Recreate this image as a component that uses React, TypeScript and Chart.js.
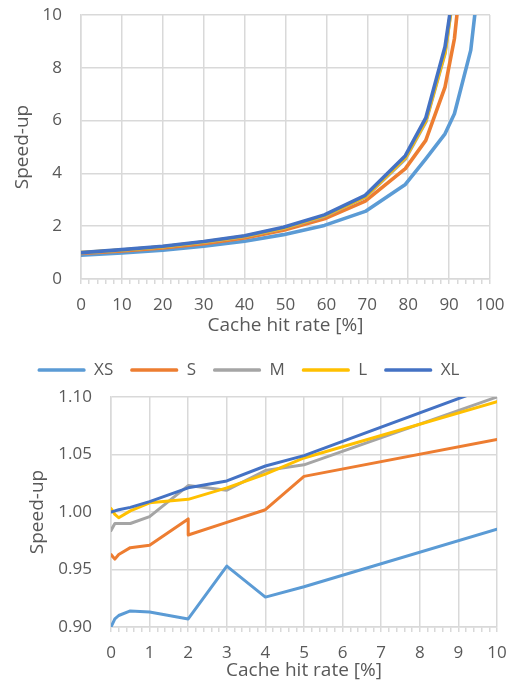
import React, { useEffect, useRef } from 'react';
import { Chart, registerables } from 'chart.js';

Chart.register(...registerables);

// ---------- data ----------
const seriesNames = ['XS', 'S', 'M', 'L', 'XL'];
const seriesColors = ['#5B9BD5', '#ED7D31', '#A5A5A5', '#FFC000', '#4472C4'];

// overview chart (cache hit rate 0..100 %)
const overviewHitRate = [0, 10, 20, 30, 40, 49.5, 59.5, 69.5, 79.3, 84.3, 89, 91.3, 95.3, 97.6];
const overviewXS = [0.9, 0.985, 1.09, 1.24, 1.43, 1.68, 2.03, 2.56, 3.58, 4.55, 5.5, 6.26, 8.67, 11.8];
const overviewS = [0.963, 1.063, 1.18, 1.34, 1.55, 1.85, 2.28, 2.95, 4.18, 5.25, 7.27, 9.1, 15, 25];
const overviewM = [0.984, 1.1, 1.22, 1.39, 1.61, 1.92, 2.38, 3.1, 4.55, 5.95, 8.55, 11.1, 20, 35];
const overviewL = [1.003, 1.096, 1.22, 1.4, 1.62, 1.93, 2.4, 3.12, 4.6, 6.0, 8.6, 11.1, 20, 35];
const overviewXL = [1.0, 1.111, 1.24, 1.42, 1.64, 1.96, 2.43, 3.17, 4.67, 6.1, 8.8, 11.2, 22, 40];

// zoomed chart (cache hit rate 0..10 %)
const zoomHitRate = [0, 0.1, 0.2, 0.5, 1, 2, 2, 3, 4, 5, 10];
const zoomXS = [0.9, 0.907, 0.91, 0.914, 0.913, 0.907, 0.907, 0.953, 0.926, 0.935, 0.985];
const zoomS = [0.963, 0.959, 0.963, 0.969, 0.971, 0.994, 0.98, 0.991, 1.002, 1.031, 1.063];
const zoomM = [0.984, 0.99, 0.99, 0.99, 0.996, 1.023, 1.023, 1.019, 1.036, 1.041, 1.1];
const zoomL = [1.003, 0.998, 0.995, 1.001, 1.008, 1.011, 1.011, 1.021, 1.033, 1.047, 1.096];
const zoomXL = [1.0, 1.001, 1.002, 1.004, 1.009, 1.021, 1.021, 1.027, 1.04, 1.049, 1.111];

// axes
const overviewXRange = [0, 100];
const overviewXMinorStep = 2;
const overviewXLabelEvery = 10;
const overviewYRange = [0, 10];
const overviewYStep = 2;
const zoomXRange = [0, 10];
const zoomXMinorStep = 0.2;
const zoomXLabelEvery = 1;
const zoomYRange = [0.9, 1.1];
const zoomYStep = 0.05;

const xTitle = 'Cache hit rate [%]';
const yTitle = 'Speed-up';

// ---------- styling ----------
const FONT = "'Open Sans', 'DejaVu Sans', sans-serif";
const TEXT = '#595959';
const GRID = '#d9d9d9';
const CLEAR = 'rgba(0,0,0,0)';

function isMultiple(v: number, step: number) {
  const r = v / step;
  return Math.abs(r - Math.round(r)) < 1e-6;
}

function buildDatasets(xs: number[], series: number[][], width: number) {
  return series.map((vals, i) => ({
    label: seriesNames[i],
    data: xs.map((x, j) => ({ x, y: vals[j] })),
    borderColor: seriesColors[i],
    backgroundColor: seriesColors[i],
    borderWidth: width,
    pointRadius: 0,
    tension: 0,
    fill: false,
    clip: 0,
    borderJoinStyle: 'round' as const,
    borderCapStyle: 'round' as const,
    order: series.length - 1 - i,
  }));
}

function xAxis(range: number[], minor: number, every: number, height: number, titlePadBottom: number) {
  return {
    type: 'linear' as const,
    min: range[0],
    max: range[1],
    afterFit: (s: any) => { s.height = height; },
    border: { display: true, color: GRID, width: 1.5 },
    grid: {
      color: (ctx: any) => (ctx.tick && isMultiple(ctx.tick.value, every) ? GRID : CLEAR),
      tickColor: GRID,
      lineWidth: 1.5,
      tickWidth: 1.5,
      tickLength: 5,
      drawTicks: true,
    },
    ticks: {
      stepSize: minor,
      autoSkip: false,
      maxRotation: 0,
      minRotation: 0,
      padding: 3,
      color: TEXT,
      font: { family: FONT, size: 17, lineHeight: 2.1 },
      callback: (v: any) => (isMultiple(Number(v), every) ? String(Math.round(Number(v))) : ''),
    },
    title: {
      display: true,
      text: xTitle,
      color: TEXT,
      font: { family: FONT, size: 19 },
      padding: { top: 0, bottom: titlePadBottom },
    },
  };
}

function yAxis(range: number[], step: number, width: number, titlePadTop: number, decimals: number) {
  return {
    type: 'linear' as const,
    min: range[0],
    max: range[1],
    afterFit: (s: any) => { s.width = width; },
    border: { display: true, color: GRID, width: 1.5 },
    grid: { color: GRID, lineWidth: 1.5, drawTicks: true, tickLength: 16, tickColor: CLEAR },
    ticks: {
      stepSize: step,
      padding: 3,
      color: TEXT,
      font: { family: FONT, size: 17 },
      callback: (v: any) => Number(v).toFixed(decimals),
    },
    title: {
      display: true,
      text: yTitle,
      color: TEXT,
      font: { family: FONT, size: 19 },
      padding: { top: titlePadTop, bottom: 0 },
    },
  };
}

function overviewConfig(): any {
  return {
    type: 'line',
    data: {
      datasets: buildDatasets(overviewHitRate, [overviewXS, overviewS, overviewM, overviewL, overviewXL], 3.6),
    },
    options: {
      responsive: false,
      animation: false,
      events: [],
      layout: { padding: { top: 15, right: 20, left: 0, bottom: 0 } },
      plugins: { legend: { display: false }, tooltip: { enabled: false } },
      scales: {
        x: xAxis(overviewXRange, overviewXMinorStep, overviewXLabelEvery, 61, 2.6),
        y: yAxis(overviewYRange, overviewYStep, 81, 11.6, 0),
      },
    },
  };
}

function zoomConfig(): any {
  return {
    type: 'line',
    data: {
      datasets: buildDatasets(zoomHitRate, [zoomXS, zoomS, zoomM, zoomL, zoomXL], 3),
    },
    options: {
      responsive: false,
      animation: false,
      events: [],
      layout: { padding: { top: 4.5, right: 13, left: 0, bottom: 0 } },
      plugins: {
        tooltip: { enabled: false },
        legend: {
          display: true,
          position: 'top',
          labels: {
            boxWidth: 48,
            boxHeight: 3.5,
            padding: 17,
            color: TEXT,
            font: { family: FONT, size: 17 },
            generateLabels: (chart: any) =>
              chart.data.datasets.map((ds: any, i: number) => ({
                text: ds.label,
                fillStyle: ds.borderColor,
                strokeStyle: ds.borderColor,
                lineWidth: 0,
                hidden: false,
                datasetIndex: i,
                borderRadius: 1.5,
                fontColor: TEXT,
              })),
          },
        },
        subtitle: {
          display: true,
          text: '',
          weight: 500,
          font: { size: 1 },
          padding: { top: 0, bottom: 7.3 },
        },
      },
      scales: {
        x: xAxis(zoomXRange, zoomXMinorStep, zoomXLabelEvery, 53, -1.5),
        y: yAxis(zoomYRange, zoomYStep, 111, 26.6, 2),
      },
    },
  };
}

export default function App() {
  const topRef = useRef<HTMLCanvasElement>(null);
  const botRef = useRef<HTMLCanvasElement>(null);

  useEffect(() => {
    const c1 = new Chart(topRef.current as HTMLCanvasElement, overviewConfig());
    const c2 = new Chart(botRef.current as HTMLCanvasElement, zoomConfig());
    return () => {
      c1.destroy();
      c2.destroy();
    };
  }, []);

  return (
    <div style={{ position: 'absolute', left: 0, top: 0, width: 510, height: 680, background: '#ffffff' }}>
      <canvas ref={topRef} width={510} height={340} style={{ position: 'absolute', left: 0, top: 0 }} />
      <canvas ref={botRef} width={510} height={340} style={{ position: 'absolute', left: 0, top: 340 }} />
    </div>
  );
}
